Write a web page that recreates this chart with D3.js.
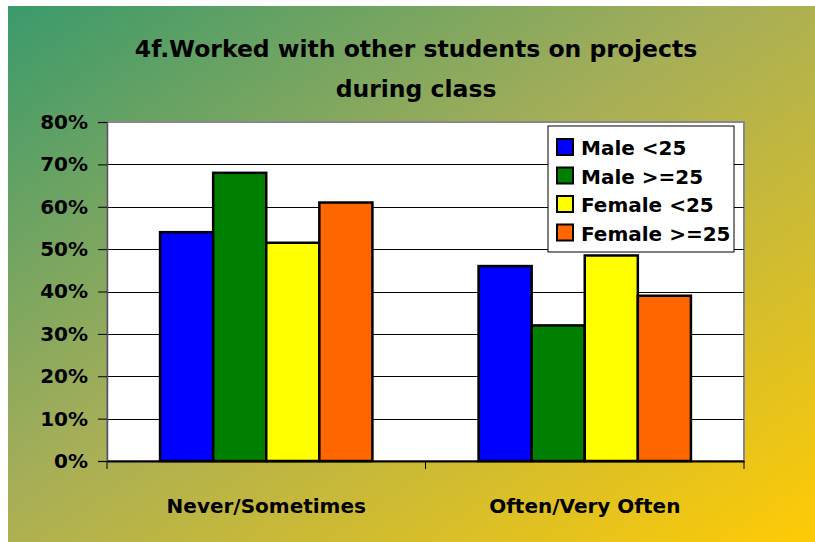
<!DOCTYPE html>
<html>
<head>
<meta charset="utf-8">
<script src="https://cdn.jsdelivr.net/npm/d3@7"></script>
<style>
  html, body { margin: 0; padding: 0; background: #fff; }
  svg text { font-family: "Comic Sans MS", "DejaVu Sans", sans-serif; font-weight: bold; fill: #000; }
</style>
</head>
<body>
<svg id="chart" width="815" height="542"></svg>
<script>
const categories = ['Never/Sometimes', 'Often/Very Often']
const series = ['Male <25', 'Male >=25', 'Female <25', 'Female >=25']
const colors = ['#0000ff', '#008000', '#ffff00', '#ff6600']
// percent values per series, one entry per category
const values = [
  [54, 46],
  [68, 32],
  [51.5, 48.5],
  [61, 39]
]
const yTicks = [0, 10, 20, 30, 40, 50, 60, 70, 80]
const titleLines = ['4f.Worked with other students on projects', 'during class']

const svg = d3.select('#chart')
const plot = { left: 107, right: 744, top: 122, bottom: 461 }

// background gradient
const defs = svg.append('defs')
const grad = defs.append('linearGradient')
  .attr('id', 'bg')
  .attr('x1', '0%').attr('y1', '0%')
  .attr('x2', '100%').attr('y2', '100%')
grad.append('stop').attr('offset', '0%').attr('stop-color', '#3a9a6c')
grad.append('stop').attr('offset', '45%').attr('stop-color', '#a6ae58')
grad.append('stop').attr('offset', '100%').attr('stop-color', '#ffcb05')

svg.append('rect')
  .attr('x', 8).attr('y', 6)
  .attr('width', 807).attr('height', 536)
  .attr('fill', 'url(#bg)')

// title
svg.append('g').selectAll('text')
  .data(titleLines)
  .enter()
  .append('text')
  .attr('x', 416)
  .attr('y', (_, i) => 57 + i * 40)
  .attr('text-anchor', 'middle')
  .attr('font-size', 23.5)
  .text(d => d)

const x0 = d3.scaleBand().domain(categories).range([plot.left, plot.right])
const x1 = d3.scaleBand().domain(series).range([0, x0.bandwidth()]).paddingOuter(1).paddingInner(0)
const y = d3.scaleLinear().domain([0, 80]).range([plot.bottom, plot.top])

// plot area
svg.append('rect')
  .attr('x', plot.left).attr('y', plot.top)
  .attr('width', plot.right - plot.left).attr('height', plot.bottom - plot.top)
  .attr('fill', '#fff')
  .attr('stroke', '#888')
  .attr('stroke-width', 2)

// gridlines
svg.append('g').selectAll('line')
  .data(yTicks.filter(d => d > 0 && d < 80))
  .enter()
  .append('line')
  .attr('x1', plot.left).attr('x2', plot.right)
  .attr('y1', d => Math.round(y(d)) + 0.5).attr('y2', d => Math.round(y(d)) + 0.5)
  .attr('stroke', '#000')
  .attr('stroke-width', 1)

// y axis
const yAxis = svg.append('g')
  .attr('transform', `translate(${plot.left},0)`)
  .call(d3.axisLeft(y).tickValues(yTicks).tickSize(9).tickPadding(10).tickFormat(d => d + '%'))
yAxis.select('.domain').attr('stroke', '#555').attr('stroke-width', 1.5)
yAxis.selectAll('.tick line').attr('stroke', '#000')
yAxis.selectAll('text').attr('font-size', 20).style('font-family', '"Comic Sans MS", "DejaVu Sans", sans-serif').style('font-weight', 'bold')

// bars
const groups = svg.append('g').selectAll('g')
  .data(categories)
  .enter()
  .append('g')
  .attr('transform', d => `translate(${x0(d)},0)`)

groups.selectAll('rect')
  .data((c, ci) => series.map((s, si) => ({ s, si, v: values[si][ci] })))
  .enter()
  .append('rect')
  .attr('x', d => x1(d.s))
  .attr('y', d => y(d.v))
  .attr('width', x1.bandwidth())
  .attr('height', d => y(0) - y(d.v))
  .attr('fill', d => colors[d.si])
  .attr('stroke', '#000')
  .attr('stroke-width', 2.5)

// x axis
const xAxis = svg.append('g')
  .attr('transform', `translate(0,${plot.bottom})`)
  .call(d3.axisBottom(x0).tickSize(0).tickPadding(38))
xAxis.select('.domain').attr('stroke', '#000').attr('stroke-width', 2)
xAxis.selectAll('text').attr('font-size', 20).style('font-family', '"Comic Sans MS", "DejaVu Sans", sans-serif').style('font-weight', 'bold')

// category boundary ticks
svg.append('g').selectAll('line')
  .data([plot.left, x0(categories[1]), plot.right])
  .enter()
  .append('line')
  .attr('x1', d => d).attr('x2', d => d)
  .attr('y1', plot.bottom).attr('y2', plot.bottom + 8)
  .attr('stroke', '#000')

// legend
const legend = svg.append('g').attr('transform', 'translate(548,126)')
legend.append('rect')
  .attr('width', 186).attr('height', 126)
  .attr('fill', '#fff')
  .attr('stroke', '#000')
  .attr('stroke-width', 1)

const items = legend.selectAll('g.item')
  .data(series)
  .enter()
  .append('g')
  .attr('class', 'item')
  .attr('transform', (_, i) => `translate(0,${22 + i * 28.5})`)

items.append('rect')
  .attr('x', 9).attr('y', -9)
  .attr('width', 16).attr('height', 16)
  .attr('fill', (_, i) => colors[i])
  .attr('stroke', '#000')
  .attr('stroke-width', 2)

items.append('text')
  .attr('x', 33)
  .attr('y', 7)
  .attr('font-size', 20)
  .text(d => d)
</script>
</body>
</html>
